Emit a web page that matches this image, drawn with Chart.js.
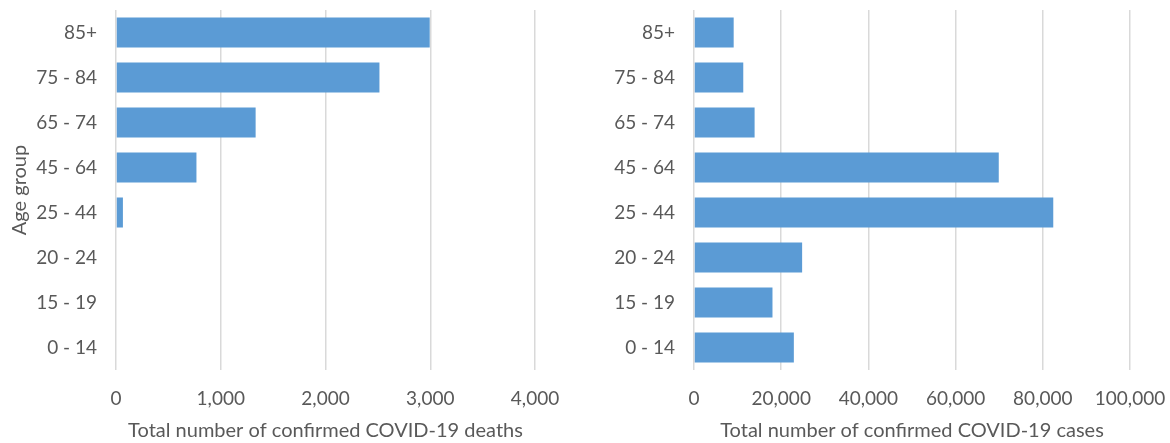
<!DOCTYPE html>
<html>
<head>
<meta charset="utf-8">
<script src="https://cdn.jsdelivr.net/npm/chart.js@4"></script>
<style>
  html, body { margin: 0; padding: 0; background: #ffffff; }
  .panel { position: absolute; top: 0; height: 443px; }
  #leftPanel { left: 0; width: 560px; }
  #rightPanel { left: 560px; width: 610px; }
</style>
</head>
<body>
<div class="panel" id="leftPanel"><canvas id="deathsChart"></canvas></div>
<div class="panel" id="rightPanel"><canvas id="casesChart"></canvas></div>
<script>
// Age groups, top to bottom
const ageGroups = ['85+', '75 - 84', '65 - 74', '45 - 64', '25 - 44', '20 - 24', '15 - 19', '0 - 14'];

// Values
const deathCounts = [2995, 2515, 1333, 768, 66, 0, 0, 0];
const caseCounts = [9100, 11300, 13900, 69900, 82400, 24800, 18000, 22900];

// Axis ranges / tick steps
const deathsAxis = { min: 0, max: 4000, step: 1000 };
const casesAxis = { min: 0, max: 100000, step: 20000 };

const theme = {
    bar: '#5b9bd5',
    grid: '#d9d9d9',
    text: '#595959',
    font: "Lato, 'Open Sans', sans-serif"
};

Chart.defaults.font.family = theme.font;
Chart.defaults.color = theme.text;

function buildChart(canvasId, values, axis, xTitle, yTitle, yWidth, rightPad) {
    const ctx = document.getElementById(canvasId).getContext('2d');
    return new Chart(ctx, {
        type: 'bar',
        data: {
            labels: ageGroups,
            datasets: [{
                data: values,
                backgroundColor: theme.bar,
                borderWidth: 0,
                categoryPercentage: 1,
                barPercentage: 0.667
            }]
        },
        options: {
            indexAxis: 'y',
            responsive: true,
            maintainAspectRatio: false,
            animation: false,
            layout: { padding: { top: 10, right: rightPad, left: 0, bottom: 0 } },
            plugins: {
                legend: { display: false },
                tooltip: { enabled: false }
            },
            scales: {
                x: {
                    min: axis.min,
                    max: axis.max,
                    ticks: {
                        stepSize: axis.step,
                        padding: 17,
                        font: { size: 19 },
                        color: theme.text,
                        callback: v => Number(v).toLocaleString('en-US')
                    },
                    grid: { color: theme.grid, lineWidth: 1.5, drawTicks: false },
                    border: { display: false },
                    title: {
                        display: true,
                        text: xTitle,
                        font: { size: 20 },
                        color: theme.text,
                        padding: { top: 0, bottom: 0 }
                    },
                    afterFit: s => {
                        s.height = 73;
                        s.paddingLeft = 0;
                        s.paddingRight = 0;
                    }
                },
                y: {
                    ticks: { padding: 19, font: { size: 19 }, color: theme.text },
                    grid: { display: false, drawTicks: false },
                    border: { display: false },
                    title: {
                        display: !!yTitle,
                        text: yTitle,
                        font: { size: 20 },
                        color: theme.text,
                        padding: { top: 8, bottom: 0 }
                    },
                    afterFit: s => {
                        s.width = yWidth;
                        s.paddingTop = 0;
                        s.paddingBottom = 0;
                    }
                }
            }
        }
    });
}

buildChart('deathsChart', deathCounts, deathsAxis, 'Total number of confirmed COVID-19 deaths', 'Age group', 116, 25);
buildChart('casesChart', caseCounts, casesAxis, 'Total number of confirmed COVID-19 cases', '', 134, 40);
</script>
</body>
</html>
